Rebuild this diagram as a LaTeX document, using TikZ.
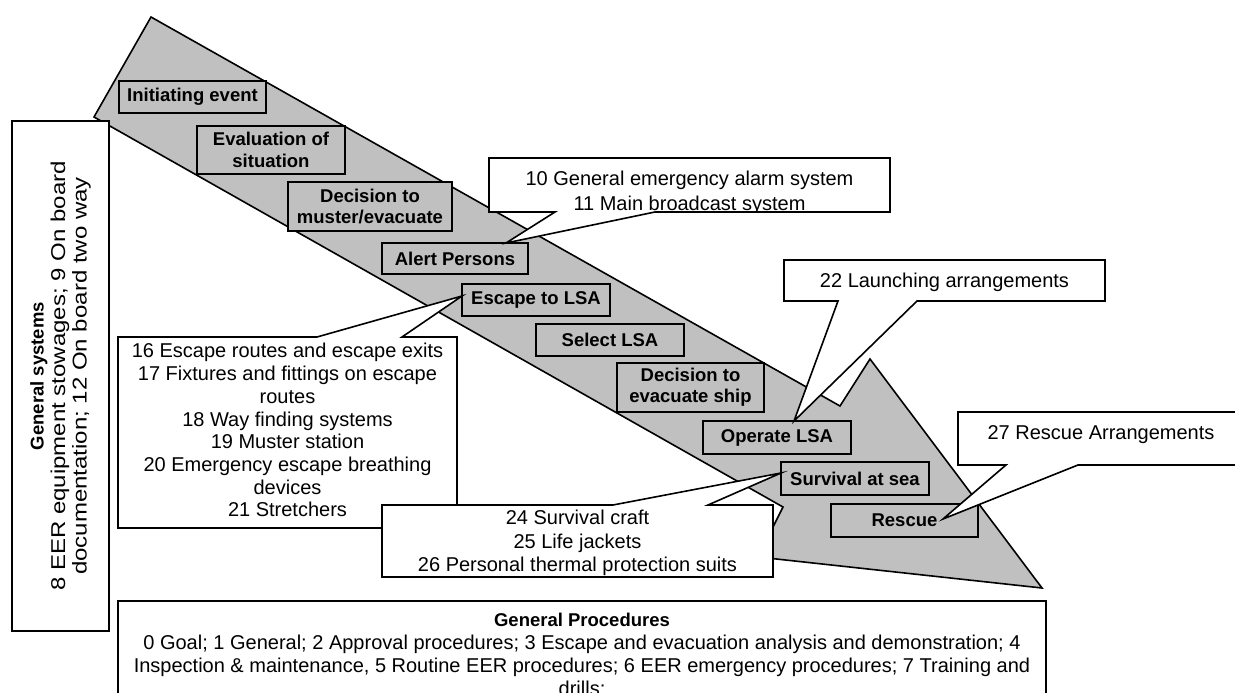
\documentclass[tikz,border=0pt]{standalone}
\usepackage{fontspec}
\usepackage{graphicx}
\setmainfont{Liberation Sans}
\usetikzlibrary{calc}
\definecolor{bandgray}{RGB}{192,192,192}
\pgfdeclarelayer{band}
\pgfdeclarelayer{steps}
\pgfdeclarelayer{bubbles}
\pgfsetlayers{band,steps,bubbles,main}

\tikzset{
  outline/.style={draw=black, line width=1.6pt, line join=miter},
  stepbox/.style={outline, fill=bandgray, inner sep=0pt, outer sep=0pt, align=center,
    font=\fontsize{18.5}{21.3}\selectfont\bfseries},
  frame/.style={inner sep=0pt, outer sep=0pt},
  bubble/.style={outline, fill=white},
  bubbletext/.style={inner sep=0pt, outer sep=0pt, align=center},
  plain/.style={font=\fontsize{20}{#1}\selectfont},
}
\newcommand{\wideline}[1]{\scalebox{1.2}[1]{#1}}

\begin{document}
\begin{tikzpicture}[x=1pt, y=-1pt]
\useasboundingbox (0,0) rectangle (1235,693);

% the process arrow
\begin{pgfonlayer}{band}
\filldraw[outline, fill=bandgray] (151,17) -- (840,406) -- (870,359) -- (1042,588)
  -- (758,557) -- (783,507) -- (94,117) -- cycle;
\end{pgfonlayer}

% process steps along the arrow
\begin{pgfonlayer}{steps}
\node[stepbox, minimum width=147pt, minimum height=32pt] (ev1) at (192.5,97) {Initiating event};
\node[stepbox, minimum width=148pt, minimum height=48pt] (ev2) at (271,150) {Evaluation of\\situation};
\node[stepbox, minimum width=164pt, minimum height=49pt] (ev3) at (370,206.5) {Decision to\\muster/evacuate};
\node[stepbox, minimum width=146pt, minimum height=31pt] (ev4) at (455,258.5) {Alert Persons};
\node[stepbox, minimum width=148pt, minimum height=32pt] (ev5) at (536,300) {Escape to LSA};
\node[stepbox, minimum width=148pt, minimum height=32pt] (ev6) at (610,340) {Select LSA};
\node[stepbox, minimum width=147pt, minimum height=49pt] (ev7) at (690.5,387.5) {Decision to\\evacuate ship};
\node[stepbox, minimum width=148pt, minimum height=33pt] (ev8) at (777,437.5) {Operate LSA};
\node[stepbox, minimum width=148pt, minimum height=33pt] (ev9) at (855,478.5) {Survival at sea};
\node[stepbox, minimum width=147pt, minimum height=33pt] (ev10) at (904.5,520.5) {Rescue};
\end{pgfonlayer}

% callout frames
\node[frame, minimum width=401pt, minimum height=54pt] (c10) at (689.5,185) {};
\node[frame, minimum width=321pt, minimum height=41pt] (c22) at (944.5,280.5) {};
\node[frame, minimum width=286pt, minimum height=53pt] (c27) at (1101,438.5) {};
\node[frame, minimum width=339pt, minimum height=191pt] (c16) at (287.5,432.5) {};
\node[frame, minimum width=391pt, minimum height=72pt] (c24) at (577.5,541) {};

% callout outlines with their pointers
\begin{pgfonlayer}{bubbles}
\filldraw[bubble] (c10.north west) -- (c10.north east) -- (c10.south east)
  -- ($(c10.south west)+(166,0)$) -- ($(ev4.north west)+(124,0)$)
  -- ($(c10.south west)+(66,0)$) -- (c10.south west) -- cycle;
\filldraw[bubble] (c22.north west) -- (c22.north east) -- (c22.south east)
  -- ($(c22.south west)+(133,0)$) -- ($(ev8.north west)+(91,0)$)
  -- ($(c22.south west)+(54,0)$) -- (c22.south west) -- cycle;
\filldraw[bubble] (c27.north west) -- (c27.north east) -- (c27.south east)
  -- ($(c27.south west)+(120,0)$) -- ($(ev10.north west)+(112,15)$)
  -- ($(c27.south west)+(48,0)$) -- (c27.south west) -- cycle;
\filldraw[bubble] (c16.north west) -- ($(c16.north west)+(199,0)$)
  -- ($(ev5.north west)+(0,12)$) -- ($(c16.north west)+(284,0)$)
  -- (c16.north east) -- (c16.south east) -- (c16.south west) -- cycle;
\filldraw[bubble] (c24.north west) -- ($(c24.north west)+(231,0)$)
  -- ($(ev9.north west)+(0,11)$) -- ($(c24.north west)+(326,0)$)
  -- (c24.north east) -- (c24.south east) -- (c24.south west) -- cycle;
\end{pgfonlayer}

% callout texts
\begin{scope}
\clip (c10.north west) rectangle (c10.south east);
\node[bubbletext, plain=25, anchor=north] (c10t) at (689.5,171.5)
  {10 General emergency alarm system\\11 Main broadcast system};
\end{scope}
\node[bubbletext, plain=23, anchor=north] (c22t) at (944.5,273) {22 Launching arrangements};
\node[bubbletext, plain=23, anchor=north] (c27t) at (1101,425.5) {27 Rescue Arrangements};
\node[bubbletext, plain=22.7, anchor=north] (c16t) at (287.5,343.5)
  {16 Escape routes and escape exits\\17 Fixtures and fittings on escape\\routes\\
   18 Way finding systems\\19 Muster station\\20 Emergency escape breathing\\devices\\21 Stretchers};
\node[bubbletext, plain=23.5, anchor=north] (c24t) at (577.5,510.5)
  {24 Survival craft\\25 Life jackets\\26 Personal thermal protection suits};

% general systems (left)
\node[outline, fill=white, inner sep=0pt, outer sep=0pt, rotate=90,
  minimum width=510pt, minimum height=97pt, align=center, plain=21.5] (gs) at (60.5,376)
  {{\fontsize{18.5}{21.5}\selectfont\bfseries General systems}\\
   \wideline{8 EER equipment stowages; 9 On board}\\
   \wideline{documentation; 12 On board two way}};

% general procedures (bottom)
\node[outline, fill=white, frame, anchor=north west, minimum width=928pt,
  minimum height=119pt] (gp) at (118,601) {};
\node[bubbletext, plain=23, anchor=north] (gpt) at ($(gp.north)+(0,12.5)$)
  {{\fontsize{18.5}{23}\selectfont\bfseries General Procedures}\\
   0 Goal; 1 General; 2 Approval procedures; 3 Escape and evacuation analysis and demonstration; 4\\
   Inspection \& maintenance, 5 Routine EER procedures; 6 EER emergency procedures; 7 Training and\\
   drills;};
\end{tikzpicture}
\end{document}
